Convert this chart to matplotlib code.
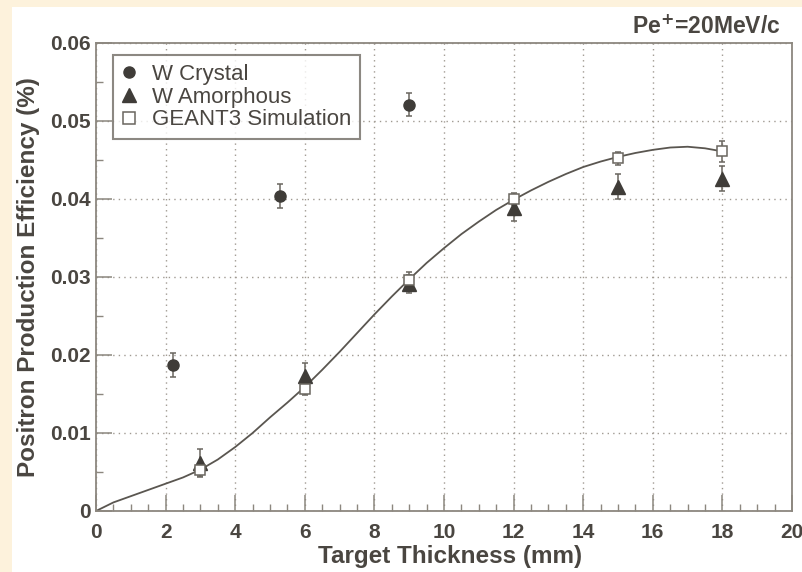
import matplotlib
matplotlib.use("Agg")
import matplotlib.pyplot as plt
from matplotlib.lines import Line2D
from matplotlib.patches import Rectangle
from matplotlib.ticker import MultipleLocator

plt.rcParams['font.family'] = ['Liberation Sans', 'DejaVu Sans']

# data
crystal_x = [2.2, 5.3, 9.0]
crystal_y = [0.0187, 0.0404, 0.0521]
crystal_err = [0.0015, 0.0015, 0.0015]

amorph_x = [3, 6, 9, 12, 15, 18]
amorph_y = [0.0061, 0.0173, 0.0291, 0.0388, 0.0416, 0.0426]
amorph_err = [0.0018, 0.0017, 0.0011, 0.0016, 0.0016, 0.0016]

geant_x = [3, 6, 9, 12, 15, 18]
geant_y = [0.0052, 0.0157, 0.0296, 0.0400, 0.0452, 0.0461]
geant_err = [0.0007, 0.0008, 0.0010, 0.0008, 0.0008, 0.0013]

# simulation fit curve
curve_x = [0, 0.5, 1, 1.5, 2, 2.5, 3, 3.5, 4, 4.5, 5, 5.5, 6, 6.5, 7, 7.5, 8, 8.5, 9,
           9.5, 10, 10.5, 11, 11.5, 12, 12.5, 13, 13.5, 14, 14.5, 15, 15.5, 16,
           16.5, 17, 17.5, 18]
curve_y = [0.0, 0.0011, 0.0019, 0.0027, 0.0035, 0.0043, 0.0053, 0.0066, 0.0082, 0.0100,
           0.0120, 0.0139, 0.0159, 0.0181, 0.0204, 0.0228, 0.0252, 0.0275, 0.0297,
           0.0318, 0.0337, 0.0355, 0.0371, 0.0386, 0.0399, 0.0411, 0.0422, 0.0432,
           0.0441, 0.0448, 0.0454, 0.0459, 0.0463, 0.0466, 0.0467, 0.0465, 0.0461]

ink = "#3f3c38"
frame = "#8c877f"
txt = "#4a4641"

fig = plt.figure(figsize=(8.03, 5.72), dpi=100)
fig.patch.set_facecolor("#fdf2dc")
fig.patches.append(Rectangle((12 / 803, 0), 1, 1 - 7 / 572, transform=fig.transFigure,
                             facecolor="white", edgecolor="none", zorder=-5))

ax = fig.add_axes([96 / 803, 1 - 511 / 572, (792 - 96) / 803, (511 - 43) / 572])
ax.set_zorder(2)
ax.set_facecolor("white")

ax.plot(curve_x, curve_y, color="#5a5650", lw=1.3, zorder=2)

ekw = dict(ecolor="#6a665f", elinewidth=1.1, capsize=2.5, capthick=1.1, ls="none", zorder=3)
ax.errorbar(crystal_x, crystal_y, yerr=crystal_err, fmt="o", ms=8, mfc=ink, mec=ink, **ekw)
ax.errorbar(amorph_x, amorph_y, yerr=amorph_err, fmt="^", ms=9.5, mfc=ink, mec=ink, **ekw)
ax.errorbar(geant_x, geant_y, yerr=geant_err, fmt="s", ms=7.5, mfc="white", mec="#6a665f",
            mew=1.1, **ekw)

ax.set_xlim(0, 20)
ax.set_ylim(0, 0.06)
ax.xaxis.set_major_locator(MultipleLocator(2))
ax.xaxis.set_minor_locator(MultipleLocator(0.5))
ax.yaxis.set_minor_locator(MultipleLocator(0.005))
ax.set_yticks([0, 0.01, 0.02, 0.03, 0.04, 0.05, 0.06])
ax.set_yticklabels(["0", "0.01", "0.02", "0.03", "0.04", "0.05", "0.06"])
ax.tick_params(which="both", direction="in", color=frame, labelcolor=txt,
               labelsize=15, top=False, right=False)
ax.tick_params(which="major", length=11.5, width=1.1)
ax.tick_params(which="minor", length=5, width=1.0)
ax.tick_params(axis="x", which="major", pad=8.5)
ax.tick_params(axis="y", which="major", pad=3.5)
for lab in ax.get_xticklabels() + ax.get_yticklabels():
    lab.set_fontweight("bold")
for sp in ax.spines.values():
    sp.set_color(frame)
    sp.set_linewidth(1.3)
ax.grid(True, which="major", ls=(0, (1, 3)), color="#a09a92", lw=1.0)

fig.text(450 / 803, 1 - 557 / 572, "Target Thickness (mm)", ha="center", va="center",
         fontsize=17.5, fontweight="bold", color=txt)
fig.text(29 / 803, 1 - 277 / 572, "Positron Production Efficiency (%)", ha="center",
         va="center", rotation=90, fontsize=17.5, fontweight="bold", color=txt)

fig.text(780 / 803, 1 - 27 / 572, r"Pe$^{\mathbf{+}}$=20MeV/c", ha="right", va="center",
         fontsize=16.5, fontweight="bold", color=txt)

handles = [
    Line2D([], [], marker="o", ls="none", ms=8, mfc=ink, mec=ink),
    Line2D([], [], marker="^", ls="none", ms=9.5, mfc=ink, mec=ink),
    Line2D([], [], marker="s", ls="none", ms=8, mfc="white", mec="#6a665f", mew=1.1),
]
leg = ax.legend(handles, ["W Crystal", "W Amorphous", "GEANT3 Simulation"],
                loc="upper left", bbox_to_anchor=(17 / 696, 1 - 12 / 468), fontsize=16,
                frameon=True, fancybox=False, handlelength=0.6, handletextpad=0.75,
                borderpad=0.4, labelspacing=0.08, borderaxespad=0)
leg.get_frame().set_edgecolor("#6f6a63")
leg.get_frame().set_linewidth(1.5)
for t in leg.get_texts():
    t.set_color(txt)

fig.savefig("out.png", dpi=100, facecolor=fig.get_facecolor())
